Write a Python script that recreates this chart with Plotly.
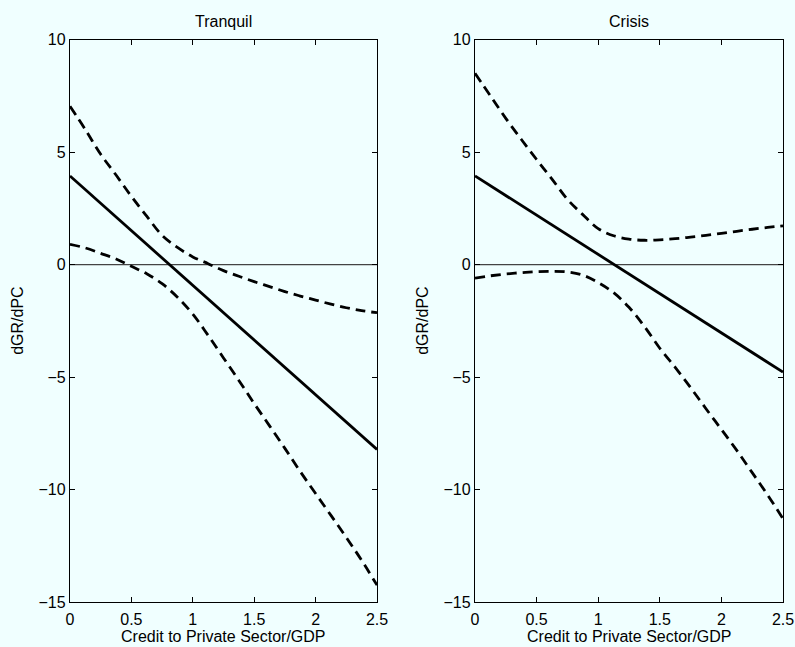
import plotly.graph_objects as go

# ---- data ----
x_grid = [0, 0.125, 0.25, 0.375, 0.5, 0.625, 0.75, 0.875, 1.0, 1.125, 1.25,
          1.375, 1.5, 1.625, 1.75, 1.875, 2.0, 2.125, 2.25, 2.375, 2.5]

tranquil_upper = [7.04, 6.0, 4.9, 3.98, 3.03, 2.15, 1.3, 0.76, 0.34, 0.04, -0.27,
                  -0.52, -0.76, -0.98, -1.2, -1.4, -1.58, -1.76, -1.92, -2.05, -2.14]
tranquil_lower = [0.9, 0.74, 0.5, 0.25, -0.08, -0.41, -0.85, -1.45, -2.2, -3.15, -4.15,
                  -5.15, -6.18, -7.17, -8.17, -9.2, -10.18, -11.15, -12.13, -13.15, -14.25]
crisis_upper = [8.5, 7.5, 6.5, 5.57, 4.67, 3.8, 2.9, 2.22, 1.6, 1.28, 1.13,
                1.08, 1.1, 1.15, 1.22, 1.3, 1.39, 1.48, 1.57, 1.65, 1.72]
crisis_lower = [-0.6, -0.5, -0.42, -0.36, -0.32, -0.3, -0.33, -0.47, -0.8, -1.25, -1.9,
                -2.75, -3.72, -4.57, -5.47, -6.41, -7.33, -8.26, -9.25, -10.24, -11.3]

x_ends = [0, 2.5]
tranquil_mean = [3.94, -8.22]
crisis_mean = [3.94, -4.78]

panel_titles = ["Tranquil", "Crisis"]
x_title = "Credit to Private Sector/GDP"
y_title = "dGR/dPC"
x_ticks = [0, 0.5, 1, 1.5, 2, 2.5]
x_ticklabels = ["0", "0.5", "1", "1.5", "2", "2.5"]
y_ticks = [-15, -10, -5, 0, 5, 10]

# ---- figure ----
W, H = 795, 647
BG = "#F0FFFF"
FONT = "Liberation Sans, Arial, Helvetica, sans-serif"
FS = 16
DASH = "10px,6px"

fig = go.Figure()

panels = [
    ("x", "y", tranquil_mean, tranquil_upper, tranquil_lower),
    ("x2", "y2", crisis_mean, crisis_upper, crisis_lower),
]
for xa, ya, mean, up, lo in panels:
    fig.add_trace(go.Scatter(x=x_ends, y=[0, 0], mode="lines", xaxis=xa, yaxis=ya,
                             line=dict(color="#444444", width=1.2), showlegend=False, hoverinfo="skip"))
    fig.add_trace(go.Scatter(x=x_ends, y=mean, mode="lines", xaxis=xa, yaxis=ya,
                             line=dict(color="black", width=2.8), showlegend=False))
    fig.add_trace(go.Scatter(x=x_grid, y=up, mode="lines", xaxis=xa, yaxis=ya,
                             line=dict(color="black", width=2.8, dash=DASH, shape="spline"),
                             showlegend=False))
    fig.add_trace(go.Scatter(x=x_grid, y=lo, mode="lines", xaxis=xa, yaxis=ya,
                             line=dict(color="black", width=2.8, dash=DASH, shape="spline"),
                             showlegend=False))

xdom = [[70 / W, 377 / W], [475 / W, 783 / W]]
ydom = [1 - 602 / H, 1 - 39.6 / H]

axis_common = dict(
    showline=True, linecolor="black", linewidth=1.3, mirror="ticks",
    ticks="inside", ticklen=5, tickwidth=1, tickcolor="black",
    showgrid=False, zeroline=False, automargin=False,
    tickfont=dict(family=FONT, size=FS, color="black"),
)

layout = dict(
    width=W, height=H,
    margin=dict(l=0, r=0, t=0, b=0),
    paper_bgcolor=BG, plot_bgcolor=BG,
    font=dict(family=FONT, size=FS, color="black"),
    showlegend=False,
)
for i, suffix in enumerate(["", "2"]):
    layout["xaxis" + suffix] = dict(axis_common, domain=xdom[i], range=[0, 2.5],
                                    tickvals=x_ticks, ticktext=x_ticklabels,
                                    anchor="y" + suffix, ticklabelstandoff=3)
    layout["yaxis" + suffix] = dict(axis_common, domain=ydom, range=[-15, 10],
                                    tickvals=y_ticks, anchor="x" + suffix)
fig.update_layout(**layout)

annotations = []
for i in range(2):
    xc = (xdom[i][0] + xdom[i][1]) / 2
    annotations.append(dict(text=panel_titles[i], x=xc, y=1 - 22 / H, xref="paper", yref="paper",
                            showarrow=False, xanchor="center", yanchor="middle",
                            font=dict(family=FONT, size=FS, color="black")))
    annotations.append(dict(text=x_title, x=xc, y=1 - 636 / H, xref="paper", yref="paper",
                            showarrow=False, xanchor="center", yanchor="middle",
                            font=dict(family=FONT, size=FS, color="black")))
    ytx = [18 / W, 423 / W][i]
    annotations.append(dict(text=y_title, x=ytx, y=(ydom[0] + ydom[1]) / 2,
                            xref="paper", yref="paper", textangle=-90,
                            showarrow=False, xanchor="center", yanchor="middle",
                            font=dict(family=FONT, size=FS, color="black")))
fig.update_layout(annotations=annotations)

fig.write_html("out.html")
